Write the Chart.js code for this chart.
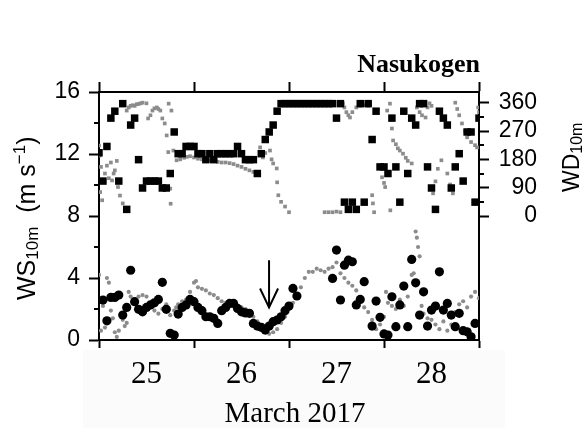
<!DOCTYPE html>
<html><head><meta charset="utf-8">
<script src="https://cdn.jsdelivr.net/npm/chart.js@4.4.1/dist/chart.umd.min.js"></script>
<style>html,body{margin:0;padding:0;background:#fff;overflow:hidden}</style>
</head><body>
<canvas id="c" width="585" height="428"></canvas>
<script>
// ---- data ----
const startDay = 25;                       // March 25, 00:00
const dayTicks = [25, 26, 27, 28, 29];      // midnight tick marks
const dayLabelPos = [25.5, 26.5, 27.5, 28.5];
const dayLabels = ['25', '26', '27', '28'];
const wsTicks = [0, 4, 8, 12, 16];
const wsMinorTicks = [2, 6, 10, 14];
const wdTicks = [0, 90, 180, 270, 360];
const wdMinorTicks = [45, 135, 225, 315];
const stationName = 'Nasukogen';
const xTitle = 'March 2017';

// black circles: hourly wind speed (m/s), index = hours since startDay
const blackWs = [null, 2.58, 1.24, 2.75, 2.75, 2.9, 1.61, 2.1, 4.5, 2.47, 1.98, 1.82, 2.1, 2.26, 2.4, 2.62, 3.72, 1.98, 0.43, 0.32,
  1.67, 2.1, 2.26, 2.62, 2.47, 2.1, 1.89, 1.5, 1.5, 1.4, 1.07, 1.89, 2.1, 2.36, 2.36, 2.04, 1.82, 1.75, 1.72, 1.07,
  0.9, 0.82, 0.64, 0.9, 1.18, 1.29, 1.5, 1.89, 2.19, 3.33, 2.84, null, null, null, null, null, null, null, null, 3.97,
  5.8, 2.58, 4.83, 5.15, 5.05, 2.26, 2.62, 3.76, null, 0.9, 2.51, 1.46, 0.39, 0.32, 2.79, 0.86, 2.26, 3.48, 0.86, 5.2,
  3.69, 1.61, 3.11, 0.9, 1.93, 2.19, 4.4, 1.93, 2.36, 1.61, 0.86, 1.72, 0.6, 0.53, 0.21, 1.07];

// black squares: hourly wind direction (deg)
const blackWd = [201, 111, 221, 311, 333, 111, 357, 21, 289, 311, 179, 89, 111, 111, 111, 111, 89, 89, 135, 267,
  198, 198, 221, 221, 221, 198, 198, 179, 198, 179, 198, 198, 198, 198, 198, 221, 198, 179, 179, 179,
  135, 198, 243, 267, 289, 333, 357, 357, 357, 357, 357, 357, 357, 357, 357, 357, 357, 357, 357, 357,
  311, 357, 44, 21, 44, 21, 357, 44, 357, 243, 333, 156, 156, 135, 311, 156, 44, 333, 135, 311,
  289, 357, 357, 156, 89, 21, 333, 311, 289, 89, 156, 198, 111, 267, 267, 44, 311];

// grey dots: wind speed (hours since startDay, m/s)
const greyWsHour = [0, 0.5, 1, 1.5, 2, 2.5, 3, 3.5, 4, 4.5, 5, 6, 6.5, 7, 7.5, 8, 9, 10, 11, 12, 13, 14, 15, 16, 17, 18, 19, 19.5, 20,
  21, 22, 23, 24, 24.5, 25, 26, 27, 28, 29, 30, 31, 32, 33, 34, 35, 36, 37, 38, 39, 40, 41, 42, 43, 44, 45, 46, 47, 48, 49,
  50, 51, 52, 53, 54, 55, 56, 57, 58, 59, 60, 61, 62, 63, 64, 65, 66, 67, 68, 69, 70, 71, 72, 72.5, 73, 74, 75, 76, 77, 78,
  79, 79.5, 80, 80.3, 80.6, 81, 81.5, 82, 83, 84, 85, 86, 87, 88, 89, 90, 91, 92, 93, 94, 95, 96];
const greyWsValue = [4.2, 0.6, 2.2, 0.8, 4.0, 3.7, 1.9, 1.4, 0.5, 0.2, 0.6, 1.3, 0.9, 1.1, 3.1, 2.8, 2.6, 2.8, 2.9, 2.8, 2.4, 1.9, 1.7, 2.0, 2.3, 1.6, 1.9, 2.1, 2.3,
  2.5, 2.6, 3.1, 3.7, 3.8, 3.4, 3.3, 3.2, 3.0, 2.9, 2.7, 2.5, 2.4, 2.3, 2.3, 2.2, 2.1, 2.0, 1.8, 1.5, 1.2, 0.9, 0.6, 0.4, 0.5, 0.7, 1.1, 1.5, 2.0, 2.4,
  2.8, 3.4, 4.0, 4.4, 4.4, 4.6, 4.5, 4.4, 4.6, 4.7, 5.0, 4.3, 4.0, 3.7, 3.5, 3.2, 2.5, 2.1, 1.8, 1.3, 0.7, 1.0, 1.5, 3.1, 2.4, 2.2, 2.0, 2.6, 2.2, 2.8,
  4.2, 4.3, 7.0, 6.6, 6.0, 5.4, 2.2, 1.7, 1.4, 1.3, 1.0, 0.7, 1.2, 0.6, 1.0, 1.8, 2.3, 2.5, 2.1, 2.8, 3.1, 2.7];

// grey dots: wind direction (hours since startDay, deg)
const greyWdHour = [0, 0.2, 0.3, 0.5, 0.8, 1.5, 2, 2.5, 3, 3.3, 3.7, 4, 4.5, 4.8, 5.3, 6, 7, 7.5, 8, 8.5, 9, 9.5, 10, 10.5, 11, 12,
  12.4, 13, 13.5, 14, 14.6, 15, 15.5, 16, 16.6, 17.1, 17.5, 17.6, 18.3, 18, 18.1, 18.8, 19.6, 20.5, 21.5, 22.2, 23, 24, 25, 26,
  27, 28, 29, 30, 31, 32, 33, 34, 35, 36, 37, 38, 39, 40, 40.7, 41.4, 42, 43.2, 43.6, 44, 44.9, 45, 45.3, 46, 47, 48,
  57, 58, 59, 60, 61, 61.6, 62, 62.5, 63, 63.4, 64, 65, 66, 67, 68, 68.5, 69, 69.2, 69.5, 71.5, 72, 72.3, 72.8, 73.5, 73.6,
  74, 74.3, 75, 75.5, 76, 76.8, 77.5, 78, 79, 80.3, 81, 81.6, 82.5, 83, 83.5, 84, 84.4, 85, 85.6, 86.5, 88, 88.7, 89.4,
  90, 90.5, 91, 91.7, 92.5, 93, 94, 95, 95.5, 95.8, 96];
const greyWdValue = [224, 192, 76, 156, 50, 135, 160, 120, 170, 113, 135, 145, 175, 92, 65, 40, 335, 345, 350, 352, 350, 355, 356, 358, 360, 358,
  310, 320, 335, 342, 345, 340, 335, 310, 294, 256, 203, 357, 335, 87, 39, 208, 177, 180, 185, 188, 190, 186, 182, 180,
  178, 177, 175, 172, 170, 170, 168, 165, 160, 156, 150, 145, 140, 135, 218, 186, 200, 208, 180, 167, 151, 107, 66, 45, 30, 12,
  12, 12, 12, 14, 12, 357, 345, 330, 320, 313, 330, 345, 350, 352, 350, 355, 66, 40, 12, 123, 105, 92, 335, 357, 18,
  278, 240, 228, 215, 208, 198, 185, 175, 167, 345, 330, 320, 313, 345, 358, 350, 72, 110, 150, 177, 135, 100, 72,
  360, 340, 320, 294, 270, 250, 235, 225, 218, 345, 330];

// arrow annotation (day, wind-speed values of shaft top and tip)
const arrowDay = 26.79, arrowTopWs = 5.15, arrowTipWs = 2.1;

// ---- build points ----
const hourly = arr => arr.map((v, h) => ({x: startDay + h / 24, y: v})).filter(p => p.y !== null);
const paired = (hs, vs) => hs.map((h, i) => ({x: startDay + h / 24, y: vs[i]}));

const SERIF = '"Liberation Serif", "Times New Roman", serif';
const SANS = '"Liberation Sans", Arial, sans-serif';

function drawRich(ctx, segs, x, y, rot) {
  ctx.save();
  ctx.translate(x, y);
  ctx.rotate(rot);
  ctx.textBaseline = 'alphabetic';
  ctx.textAlign = 'left';
  ctx.fillStyle = '#000';
  let cx = 0;
  for (const s of segs) {
    ctx.font = s.size + 'px ' + SANS;
    ctx.fillText(s.t, cx, s.dy || 0);
    cx += ctx.measureText(s.t).width;
  }
  ctx.restore();
}

const decor = {
  id: 'decor',
  beforeDraw(chart) {
    const ctx = chart.ctx;
    ctx.save();
    ctx.fillStyle = '#fbfbfb';
    ctx.fillRect(83, 350, 422, 78);
    ctx.restore();
  },
  afterDraw(chart) {
    const ctx = chart.ctx, a = chart.chartArea, s = chart.scales;
    ctx.save();
    ctx.strokeStyle = '#000';
    ctx.lineWidth = 2;
    // minor ticks
    ctx.beginPath();
    for (const v of wsMinorTicks) {
      const y = Math.round(s.y.getPixelForValue(v));
      ctx.moveTo(a.left - 5, y); ctx.lineTo(a.left, y);
    }
    for (const v of wdMinorTicks) {
      const y = Math.round(s.yR.getPixelForValue(v));
      ctx.moveTo(a.right, y); ctx.lineTo(a.right + 5, y);
    }
    ctx.stroke();
    // arrow
    const ax = s.x.getPixelForValue(arrowDay);
    const y0 = s.y.getPixelForValue(arrowTopWs), y1 = s.y.getPixelForValue(arrowTipWs);
    ctx.beginPath();
    ctx.moveTo(ax, y0); ctx.lineTo(ax, y1);
    ctx.moveTo(ax - 9, y1 - 19); ctx.lineTo(ax, y1); ctx.lineTo(ax + 9, y1 - 19);
    ctx.stroke();
    // texts
    ctx.fillStyle = '#000';
    ctx.font = 'bold 26px ' + SERIF;
    ctx.textAlign = 'right';
    ctx.textBaseline = 'alphabetic';
    ctx.fillText(stationName, 480, 72);
    ctx.font = '29px ' + SERIF;
    ctx.textAlign = 'center';
    ctx.fillText(xTitle, 295, 422);
    ctx.restore();
    drawRich(ctx, [
      {t: 'WS', size: 25},
      {t: '10m', size: 17, dy: 3},
      {t: '  (m s', size: 25},
      {t: '\u22121', size: 17, dy: -10},
      {t: ')', size: 25}
    ], 35, 300, -Math.PI / 2);
    drawRich(ctx, [
      {t: 'WD', size: 23},
      {t: '10m', size: 16, dy: 3}
    ], 579, 192, -Math.PI / 2);
  }
};

const axisBorder = {display: true, color: '#000', width: 2};

new Chart(document.getElementById('c').getContext('2d'), {
  type: 'scatter',
  data: {
    datasets: [
      {data: hourly(blackWs), xAxisID: 'x', yAxisID: 'y', pointStyle: 'circle', pointRadius: 4.6,
       backgroundColor: '#000', borderWidth: 0},
      {data: hourly(blackWd), xAxisID: 'x', yAxisID: 'yR', pointStyle: 'rect', pointRadius: 5.3,
       backgroundColor: '#000', borderWidth: 0},
      {data: paired(greyWsHour, greyWsValue), xAxisID: 'x', yAxisID: 'y', pointStyle: 'circle', pointRadius: 2.1,
       backgroundColor: '#8c8c8c', borderWidth: 0},
      {data: paired(greyWdHour, greyWdValue), xAxisID: 'x', yAxisID: 'yR', pointStyle: 'rect', pointRadius: 2.6,
       backgroundColor: '#8c8c8c', borderWidth: 0}
    ]
  },
  options: {
    responsive: false,
    animation: false,
    devicePixelRatio: 1,
    layout: {padding: {left: 39, right: 48, top: 82, bottom: 0}},
    plugins: {legend: {display: false}, tooltip: {enabled: false}},
    scales: {
      x: {
        type: 'linear', position: 'bottom', min: 25, max: 29,
        afterBuildTicks: sc => { sc.ticks = [...dayTicks, ...dayLabelPos].sort((p, q) => p - q).map(v => ({value: v})); },
        afterFit: sc => { sc.height = 88; },
        ticks: {
          autoSkip: false, maxRotation: 0, minRotation: 0, padding: 8, color: '#000',
          font: {family: SERIF, size: 31},
          callback: v => { const i = dayLabelPos.indexOf(v); return i >= 0 ? dayLabels[i] : ''; }
        },
        grid: {drawOnChartArea: false, tickLength: 8, tickWidth: 2,
          tickColor: c => dayTicks.includes(c.tick.value) ? '#000' : 'rgba(0,0,0,0)'},
        border: axisBorder
      },
      xTop: {
        type: 'linear', position: 'top', min: 25, max: 29,
        afterBuildTicks: sc => { sc.ticks = dayTicks.map(v => ({value: v})); },
        afterFit: sc => { sc.height = 10; },
        ticks: {display: false},
        grid: {drawOnChartArea: false, tickLength: 10, tickWidth: 2, tickColor: '#000'},
        border: axisBorder
      },
      y: {
        type: 'linear', position: 'left', min: 0, max: 16,
        afterBuildTicks: sc => { sc.ticks = wsTicks.map(v => ({value: v})); },
        afterFit: sc => { sc.width = 60; },
        ticks: {padding: 9, color: '#000', font: {family: SANS, size: 23}},
        grid: {drawOnChartArea: false, tickLength: 10, tickWidth: 2, tickColor: '#000'},
        border: axisBorder
      },
      yR: {
        type: 'linear', position: 'right', min: -394, max: 394,
        afterBuildTicks: sc => { sc.ticks = wdTicks.map(v => ({value: v})); },
        afterFit: sc => { sc.width = 58; },
        ticks: {crossAlign: 'far', padding: 8, color: '#000', font: {family: SANS, size: 23}},
        grid: {drawOnChartArea: false, tickLength: 10, tickWidth: 2, tickColor: '#000'},
        border: axisBorder
      }
    }
  },
  plugins: [decor]
});
</script>
</body></html>
